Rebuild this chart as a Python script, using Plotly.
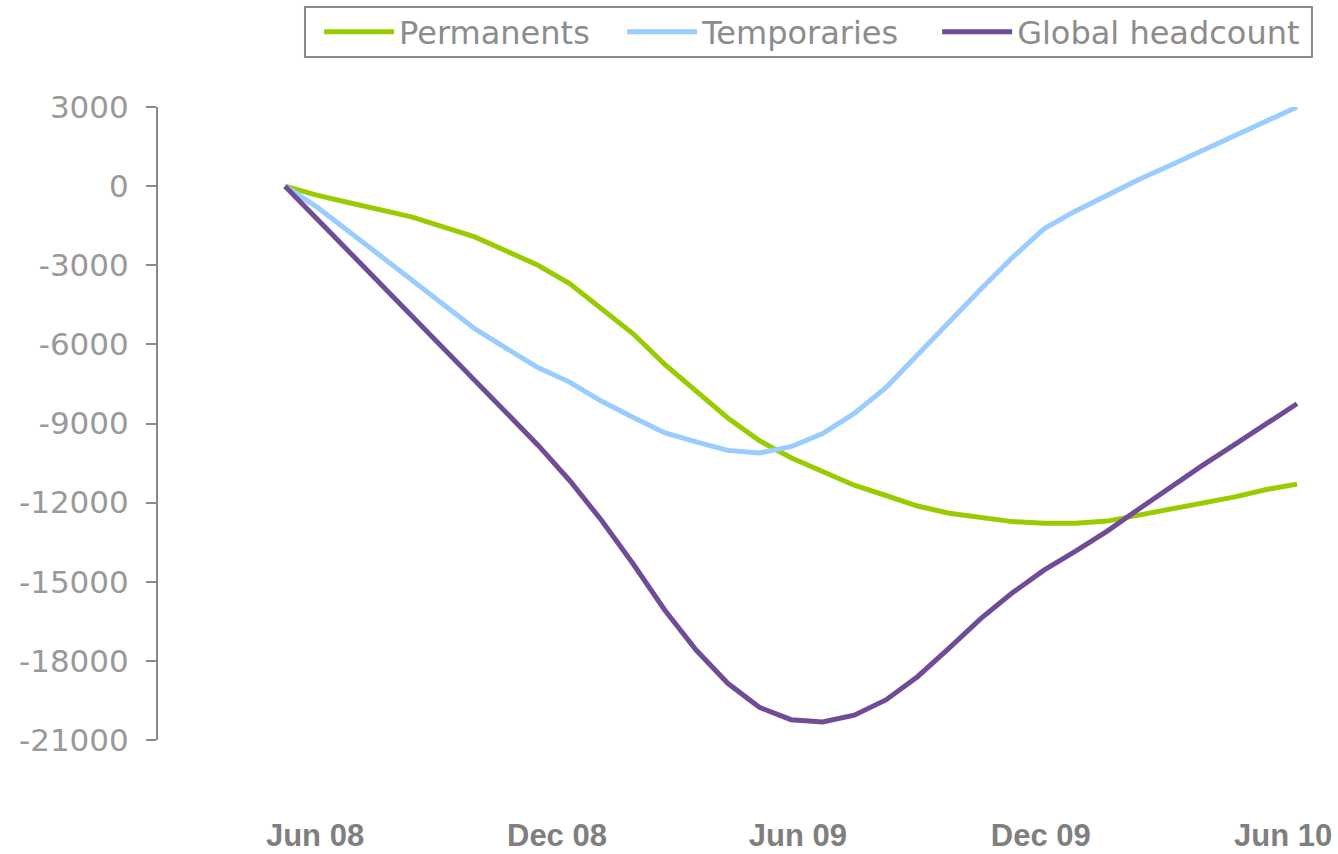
import plotly.graph_objects as go

# month-step index of each observation (33 points, Jun 08 -> Jun 10)
period_index = list(range(33))

permanents = [0, -340, -620, -900, -1165, -1545, -1925, -2460, -3000, -3695,
              -4630, -5590, -6750, -7750, -8790, -9650, -10300, -10820, -11340,
              -11730, -12130, -12400, -12560, -12720, -12780, -12780, -12700,
              -12480, -12220, -12000, -11790, -11510, -11300]

temporaries = [0, -785, -1700, -2640, -3570, -4500, -5405, -6150, -6880, -7430,
               -8150, -8760, -9350, -9700, -10020, -10120, -9880, -9380, -8620,
               -7640, -6400, -5120, -3910, -2710, -1620, -940, -320, 250, 790,
               1330, 1880, 2440, 3000]

global_headcount = [0, -1230, -2450, -3680, -4900, -6130, -7380, -8620, -9820,
                    -11160, -12660, -14310, -16060, -17590, -18850, -19760,
                    -20230, -20320, -20060, -19480, -18600, -17520, -16400,
                    -15420, -14560, -13840, -13080, -12240, -11400, -10600,
                    -9820, -9020, -8250]

tick_labels = ["Jun 08", "Dec 08", "Jun 09", "Dec 09", "Jun 10"]
tick_positions = [0.95, 8.60, 16.22, 23.9, 31.56]
y_ticks = [3000, 0, -3000, -6000, -9000, -12000, -15000, -18000, -21000]
y_tick_text = ["3000", "0", "-3000", "-6000", "-9000", "-12000", "-15000",
               "-18000", "-21000"]

fig = go.Figure()
fig.add_trace(go.Scatter(x=period_index, y=permanents, mode="lines",
                         name="Permanents", legend="legend",
                         line=dict(color="#99CC00", width=5)))
fig.add_trace(go.Scatter(x=period_index, y=temporaries, mode="lines",
                         name="Temporaries", legend="legend2",
                         line=dict(color="#99CCFF", width=5)))
fig.add_trace(go.Scatter(x=period_index, y=global_headcount, mode="lines",
                         name="Global headcount", legend="legend3",
                         line=dict(color="#704C96", width=5)))

legend_style = dict(orientation="h", xref="container", yref="container",
                    xanchor="left", y=0.9625, yanchor="middle",
                    borderwidth=0, bgcolor="rgba(0,0,0,0)",
                    font=dict(size=32, color="#8C8C8C",
                              family="DejaVu Sans, sans-serif"),
                    itemwidth=70)

fig.update_layout(
    width=1338, height=854,
    margin=dict(l=158, r=28, t=107, b=114, autoexpand=False),
    paper_bgcolor="white", plot_bgcolor="white",
    font=dict(family="DejaVu Sans, sans-serif", color="#8C8C8C"),
    showlegend=True,
    legend=dict(legend_style, x=0.2385),
    legend2=dict(legend_style, x=0.4650),
    legend3=dict(legend_style, x=0.7004),
    shapes=[dict(type="rect", xref="paper", yref="paper",
                 x0=0.1276, x1=1.0017, y0=1.079, y1=1.158,
                 line=dict(color="#8A8A8A", width=2),
                 fillcolor="rgba(0,0,0,0)")],
)
fig.update_xaxes(range=[-4.016, 32.411], tickvals=tick_positions,
                 ticktext=tick_labels, showgrid=False, zeroline=False,
                 showline=False, ticks="", ticklabelstandoff=74,
                 automargin=False,
                 tickfont=dict(size=31, color="#7F7F7F",
                               family="Liberation Sans, Arial, sans-serif",
                               weight="bold"))
fig.update_yaxes(range=[-21000, 3000], tickvals=y_ticks, ticktext=y_tick_text,
                 showgrid=False, zeroline=False, showline=True,
                 linecolor="#8A8A8A", linewidth=2, ticks="outside",
                 ticklen=10, tickwidth=2, tickcolor="#8A8A8A",
                 ticklabelstandoff=11, automargin=False,
                 tickfont=dict(size=31, color="#999999",
                               family="DejaVu Sans, sans-serif"))

fig.write_html("out.html")
